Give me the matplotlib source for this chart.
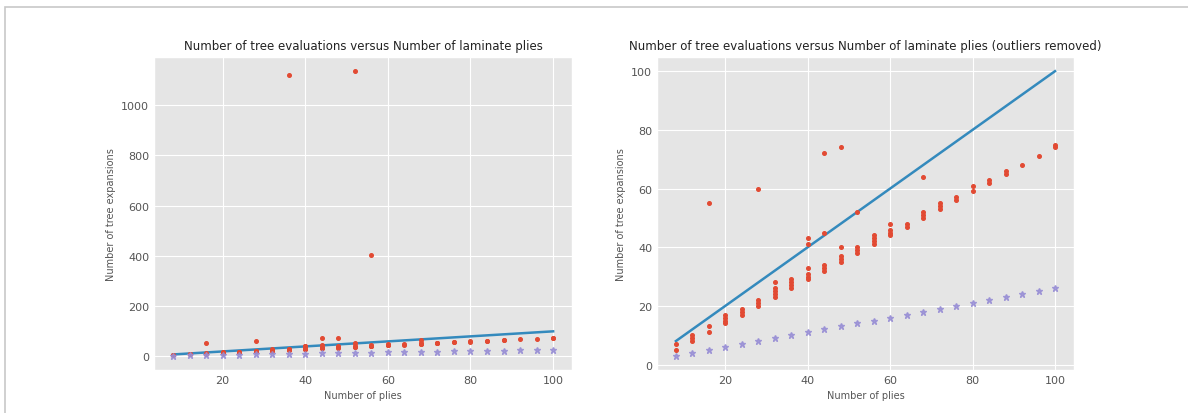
import matplotlib.pyplot as plt
from matplotlib.patches import Rectangle

plt.style.use("ggplot")

# plies for the "optimal" line and the star series
plies = [8, 12, 16, 20, 24, 28, 32, 36, 40, 44, 48, 52, 56, 60, 64, 68, 72,
         76, 80, 84, 88, 92, 96, 100]
best_expansions = [3, 4, 5, 6, 7, 8, 9, 10, 11, 12, 13, 14, 15, 16, 17, 18,
                   19, 20, 21, 22, 23, 24, 25, 26]
line_x = [8, 100]
line_y = [8, 100]

# observed tree expansions per number of plies (outliers removed)
observed = {
    8: [5, 7],
    12: [8, 9, 10],
    16: [11, 13, 55],
    20: [14, 15, 16, 17],
    24: [17, 18, 19],
    28: [20, 21, 22, 60],
    32: [23, 24, 25, 26, 28],
    36: [26, 27, 28, 29],
    40: [29, 30, 31, 33, 41, 43],
    44: [32, 33, 34, 45, 72],
    48: [35, 36, 37, 40, 74],
    52: [38, 39, 40, 52],
    56: [41, 42, 43, 44],
    60: [44, 45, 46, 48],
    64: [47, 48],
    68: [50, 51, 52, 64],
    72: [53, 54, 55],
    76: [56, 57],
    80: [59, 61],
    84: [62, 63],
    88: [65, 66],
    92: [68],
    96: [71],
    100: [74, 75],
}
outlier_x = [36, 52, 56]
outlier_y = [1120, 1135, 405]

obs_x = [k for k, v in observed.items() for _ in v]
obs_y = [y for v in observed.values() for y in v]

fig = plt.figure(figsize=(11.88, 4.14), dpi=100)
ax1 = fig.add_axes([0.1296, 0.104, 0.352, 0.756])
ax2 = fig.add_axes([0.553, 0.104, 0.351, 0.756])

# thin frame around the whole picture
fig.patches.append(Rectangle((5 / 1188, -0.1), 1.2, 1 + 0.1 - 8 / 414,
                             transform=fig.transFigure, fill=False,
                             edgecolor="#c8c8c8", lw=1.2))

red = "#E24A33"
blue = "#348ABD"
purple = "#988ED5"

for ax, with_outliers in [(ax1, True), (ax2, False)]:
    xs = obs_x + (outlier_x if with_outliers else [])
    ys = obs_y + (outlier_y if with_outliers else [])
    ax.plot(xs, ys, "o", color=red, markersize=2.6, zorder=3)
    ax.plot(line_x, line_y, "-", color=blue, lw=1.8, zorder=2)
    ax.plot(plies, best_expansions, "*", color=purple, markersize=5,
            alpha=0.85, zorder=3)
    ax.set_xlabel("Number of plies", fontsize=7, color="#555555")
    ax.set_ylabel("Number of tree expansions", fontsize=7, color="#555555")
    ax.tick_params(labelsize=8, colors="#555555", length=0)
    ax.set_xticks([20, 40, 60, 80, 100])

ax1.set_title("Number of tree evaluations versus Number of laminate plies",
              fontsize=8.5, color="#222222")
ax2.set_title("Number of tree evaluations versus Number of laminate plies "
              "(outliers removed)", fontsize=8.5, color="#222222")

plt.savefig("out.png", dpi=100)
